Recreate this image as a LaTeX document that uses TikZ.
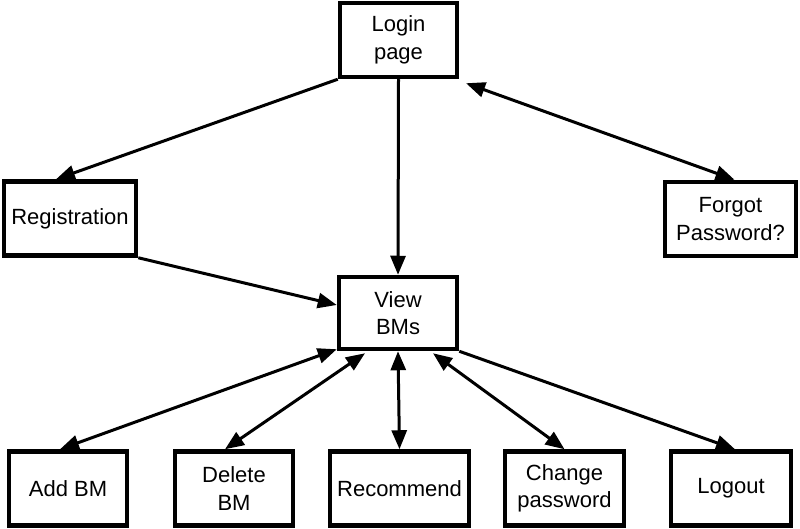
\documentclass[tikz,border=0pt]{standalone}
\usepackage{fontspec}
\setmainfont{Liberation Sans}
\usetikzlibrary{arrows.meta,calc}
\begin{document}
\begin{tikzpicture}[x=1pt,y=-1pt,
  box/.style={draw=black,line width=4.5pt,fill=white,align=center,inner sep=0pt,
    font=\fontsize{22}{27.5}\selectfont,minimum height=74pt},
  con/.style={line width=3pt,-{Triangle[length=19pt,width=15pt]}},
  bicon/.style={line width=3pt,{Triangle[length=19pt,width=15pt]}-{Triangle[length=19pt,width=15pt]}}]
\useasboundingbox[fill=white] (0,0) rectangle (800,529);
\node[box,minimum width=117pt] (login) at (398.5,40) {Login\\page};
\node[box,minimum width=132pt] (reg) at (70,218.5) {Registration};
\node[box,minimum width=131pt] (forgot) at (730.5,219) {Forgot\\Password?};
\node[box,minimum width=118pt,minimum height=72pt] (view) at (398,313) {View\\BMs};
\node[box,minimum width=118pt] (add) at (68,488.5) {Add BM};
\node[box,minimum width=118pt] (del) at (234,488.5) {Delete\\BM};
\node[box,minimum width=139pt] (rec) at (399.5,488.5) {Recommend};
\node[box,minimum width=119pt] (chg) at (564.5,488.5) {Change\\password};
\node[box,minimum width=120pt] (logout) at (731,488.5) {Logout};
\draw[con] (login.south west) -- ($(reg.north)+(-14,0)$);
\draw[con] (login.south) -- (view.north);
\draw[bicon,shorten <=3pt] ($(login.south east)+(4,3)$) -- ($(forgot.north)+(4,0)$);
\draw[con] (reg.south east) -- ($(view.west)+(0,-8)$);
\draw[bicon] ($(view.south west)+(0,-2)$) -- ($(add.north)+(-8,0)$);
\draw[bicon] ($(view.south)+(-33,2)$) -- ($(del.north)+(-9,0)$);
\draw[bicon] (view.south) -- (rec.north);
\draw[bicon] ($(view.south)+(35,2)$) -- (chg.north);
\draw[con] (view.south east) -- ($(logout.north)+(4,0)$);
\end{tikzpicture}
\end{document}
